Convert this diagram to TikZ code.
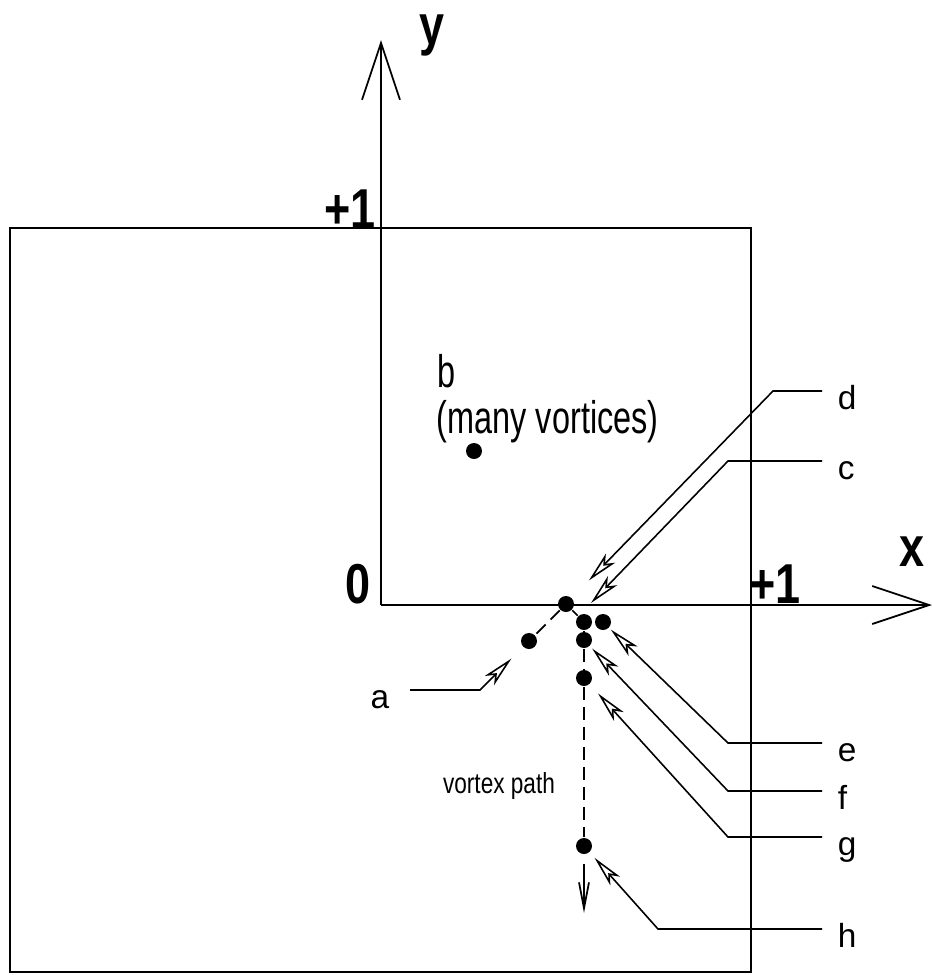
\documentclass[tikz,border=0pt]{standalone}
\usepackage{fontspec}
\setmainfont{Liberation Sans}
\newfontfamily\narrowsf[FakeStretch=0.78]{Liberation Sans}
\newfontfamily\narrowerf[FakeStretch=0.71]{Liberation Sans}
\newfontfamily\narrowbf[FakeStretch=0.8]{Liberation Sans Bold}
\usetikzlibrary{arrows.meta}

\begin{document}
\begin{tikzpicture}[x=0.02cm,y=-0.02cm,line width=1pt,
  vdot/.style={circle,fill,inner sep=0pt,minimum size=0.32cm},
  axis/.style={-{Straight Barb[length=1.14cm,width=0.76cm]}},
  axlab/.style={inner sep=0pt,anchor=base,font=\narrowbf\fontsize{32}{32}\selectfont},
  lab/.style={inner xsep=0.3cm,inner ysep=0pt,text height=0.72cm,text depth=0pt,font=\fontsize{19}{19}\selectfont},
  callout/.style={line width=0.9pt,-{Stealth[open,length=0.62cm,width=0.26cm,inset=0.16cm]}},
  vpath/.style={dash pattern=on 0.26cm off 0.14cm}]
\useasboundingbox (0,0) rectangle (932,975);
% unit square and axes
\draw (10,228) rectangle (751,972);
\coordinate (O) at (381,605);
\coordinate (ytip) at (381,40);
\coordinate (xtip) at (932,605);
\draw[axis] (O) -- (ytip);
\draw[axis] (O) -- (xtip);
\node[axlab] (ylab) at (432,44) {y};
\node[axlab] (xlab) at (912,566) {x};
\node[axlab] (yone) at (350,228) {+1};
\node[axlab] (xone) at (775,603) {+1};
\node[axlab] (zero) at (358,603) {0};
% vortices
\node[vdot] (vb) at (474,451) {};
\node[vdot] (vd) at (566,604) {};
\node[vdot] (va) at (529,641) {};
\node[vdot] (vx) at (584,622) {};
\node[vdot] (ve) at (603,622) {};
\node[vdot] (vf) at (584,640) {};
\node[vdot] (vg) at (584,678) {};
\node[vdot] (vh) at (584,846) {};
\coordinate (vend) at (584,913);
\node[inner sep=0pt,anchor=base west,font=\narrowerf\fontsize{26}{26}\selectfont] (blab) at (437,387) {b};
\node[inner sep=0pt,anchor=base west,font=\narrowerf\fontsize{26}{26}\selectfont] (bnote) at (436,433) {(many vortices)};
\node[inner sep=0pt,anchor=base,font=\narrowsf\fontsize{16.5}{16.5}\selectfont] (pathlab) at (499,793) {vortex path};
% path of the vortex
\draw[vpath] (vd) -- (va);
\draw[vpath] (vd) -- (vx);
\draw[vpath] (vx) -- (vf) -- (vg) -- (vh);
\draw[-{Straight Barb[length=0.52cm,width=0.2cm]},shorten <=0.18cm] (vh) -- (vend);
% labels
\node[lab,anchor=west] (d) at (822,391) {d};
\node[lab,anchor=west] (c) at (822,461) {c};
\node[lab,anchor=west] (e) at (822,743) {e};
\node[lab,anchor=west] (f) at (822,791) {f};
\node[lab,anchor=west] (g) at (822,837) {g};
\node[lab,anchor=west] (h) at (822,929) {h};
\node[lab,anchor=east,inner xsep=0.4cm] (a) at (410,690) {a};
\coordinate (dk) at (773,391);
\coordinate (ck) at (728,461);
\coordinate (ctip) at (591,603);
\coordinate (ek) at (728,743);
\coordinate (fk) at (728,791);
\coordinate (gk) at (728,837);
\coordinate (hk) at (658,929);
\coordinate (ak) at (480,690);
\draw[callout,shorten >=0.48cm] (d.west) -- (dk) -- (vd);
\draw[callout] (c.west) -- (ck) -- (ctip);
\draw[callout,shorten >=0.04cm] (e.west) -- (ek) -- (ve);
\draw[callout,shorten >=0.06cm] (f.west) -- (fk) -- (vf);
\draw[callout,shorten >=0.24cm] (g.west) -- (gk) -- (vg);
\draw[callout,shorten >=0.14cm] (h.west) -- (hk) -- (vh);
\draw[callout,shorten >=0.32cm] (a.east) -- (ak) -- (va);
\end{tikzpicture}
\end{document}
